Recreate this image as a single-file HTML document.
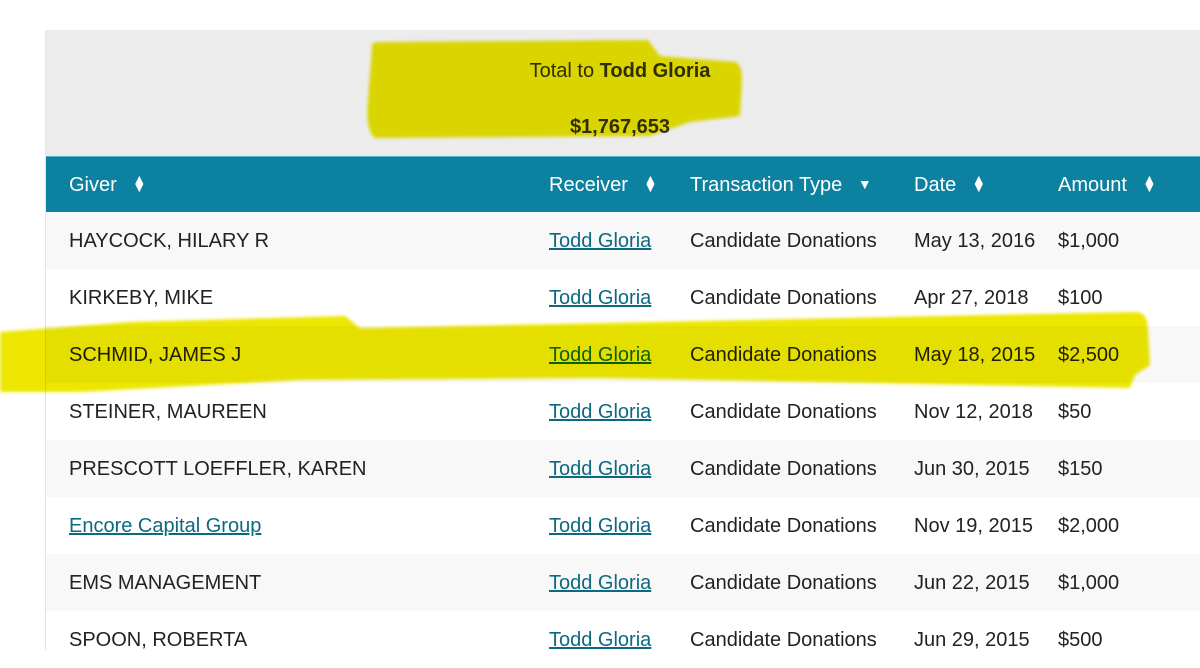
<!DOCTYPE html>
<html><head><meta charset="utf-8"><style>
body{margin:0;width:1200px;height:639px;overflow:hidden;background:#fff;font-family:"Liberation Sans Narrow","Liberation Sans",sans-serif;color:#222;position:relative}
.box{position:absolute;left:45px;top:30px;width:1160px;height:620px;border-left:1px solid #e4e4e4}
.top{position:absolute;left:0;top:0;width:100%;height:126px;background:#ececec}
.t{position:absolute;left:0;width:1148px;text-align:center;font-size:20px;color:#333}
.hdr{position:absolute;left:0;top:126px;width:100%;height:56px;background:#0c81a0;color:#fff;font-size:20px;border-top:1px solid #5fb3c9}
.c{position:absolute;white-space:nowrap}
.row{position:absolute;left:0;width:100%;height:57px;font-size:20px}
.g{background:#f8f8f8}
a{color:#0c6a80;text-decoration:underline}
.ar{display:inline-block;margin-left:10px;vertical-align:-1px;font-size:14px;line-height:8px}
svg{position:absolute;left:0;top:0;mix-blend-mode:multiply;z-index:5}
</style></head><body>
<div class="box">
<div class="top">
<div class="t" style="top:30px">Total to <b>Todd Gloria</b></div>
<div class="t" style="top:86px"><b>$1,767,653</b></div>
</div>
<div class="hdr">
<span class="c" style="left:23px;top:17px">Giver <span class="ar">▲<br>▼</span></span>
<span class="c" style="left:503px;top:17px">Receiver <span class="ar">▲<br>▼</span></span>
<span class="c" style="left:644px;top:17px">Transaction Type <span class="ar" style="vertical-align:2px">▼</span></span>
<span class="c" style="left:868px;top:17px">Date <span class="ar">▲<br>▼</span></span>
<span class="c" style="left:1012px;top:17px">Amount <span class="ar">▲<br>▼</span></span>
</div>
<div class="row g" style="top:182px"><span class="c" style="left:23px;top:18px">HAYCOCK, HILARY R</span><span class="c" style="left:503px;top:18px"><a>Todd Gloria</a></span><span class="c" style="left:644px;top:18px">Candidate Donations</span><span class="c" style="left:868px;top:18px">May 13, 2016</span><span class="c" style="left:1012px;top:18px">$1,000</span></div>
<div class="row" style="top:239px"><span class="c" style="left:23px;top:18px">KIRKEBY, MIKE</span><span class="c" style="left:503px;top:18px"><a>Todd Gloria</a></span><span class="c" style="left:644px;top:18px">Candidate Donations</span><span class="c" style="left:868px;top:18px">Apr 27, 2018</span><span class="c" style="left:1012px;top:18px">$100</span></div>
<div class="row g" style="top:296px"><span class="c" style="left:23px;top:18px">SCHMID, JAMES J</span><span class="c" style="left:503px;top:18px"><a>Todd Gloria</a></span><span class="c" style="left:644px;top:18px">Candidate Donations</span><span class="c" style="left:868px;top:18px">May 18, 2015</span><span class="c" style="left:1012px;top:18px">$2,500</span></div>
<div class="row" style="top:353px"><span class="c" style="left:23px;top:18px">STEINER, MAUREEN</span><span class="c" style="left:503px;top:18px"><a>Todd Gloria</a></span><span class="c" style="left:644px;top:18px">Candidate Donations</span><span class="c" style="left:868px;top:18px">Nov 12, 2018</span><span class="c" style="left:1012px;top:18px">$50</span></div>
<div class="row g" style="top:410px"><span class="c" style="left:23px;top:18px">PRESCOTT LOEFFLER, KAREN</span><span class="c" style="left:503px;top:18px"><a>Todd Gloria</a></span><span class="c" style="left:644px;top:18px">Candidate Donations</span><span class="c" style="left:868px;top:18px">Jun 30, 2015</span><span class="c" style="left:1012px;top:18px">$150</span></div>
<div class="row" style="top:467px"><span class="c" style="left:23px;top:18px"><a>Encore Capital Group</a></span><span class="c" style="left:503px;top:18px"><a>Todd Gloria</a></span><span class="c" style="left:644px;top:18px">Candidate Donations</span><span class="c" style="left:868px;top:18px">Nov 19, 2015</span><span class="c" style="left:1012px;top:18px">$2,000</span></div>
<div class="row g" style="top:524px"><span class="c" style="left:23px;top:18px">EMS MANAGEMENT</span><span class="c" style="left:503px;top:18px"><a>Todd Gloria</a></span><span class="c" style="left:644px;top:18px">Candidate Donations</span><span class="c" style="left:868px;top:18px">Jun 22, 2015</span><span class="c" style="left:1012px;top:18px">$1,000</span></div>
<div class="row" style="top:581px"><span class="c" style="left:23px;top:18px">SPOON, ROBERTA</span><span class="c" style="left:503px;top:18px"><a>Todd Gloria</a></span><span class="c" style="left:644px;top:18px">Candidate Donations</span><span class="c" style="left:868px;top:18px">Jun 29, 2015</span><span class="c" style="left:1012px;top:18px">$500</span></div>
</div>
<svg width="1200" height="639">
<defs><filter id="b"><feGaussianBlur stdDeviation="1.5"/></filter></defs>
<g filter="url(#b)" fill="#ece600">
<path d="M372,48 Q370,42 380,42 L648,40 L660,56 L735,62 Q742,64 742,80 L740,116 L690,122 L650,136 L375,138 Q365,130 368,100 Z"/>
<path d="M0,332 L130,322 L345,316 L360,328 L1135,312 Q1148,312 1148,330 L1150,365 L1135,375 L1130,388 L600,378 L300,380 L80,392 L0,392 Z"/>
</g>
</svg>
</body></html>
